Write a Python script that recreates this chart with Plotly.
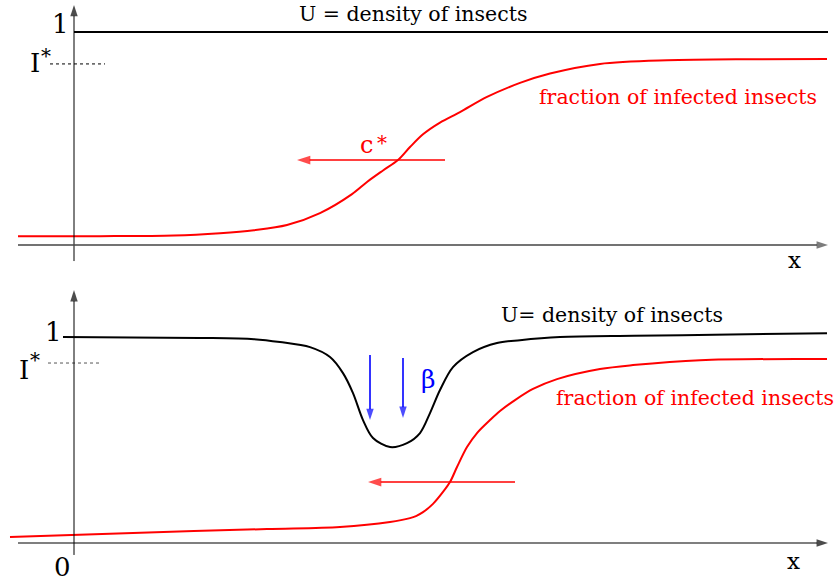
import plotly.graph_objects as go

# ---- data -------------------------------------------------------------
# Top panel: travelling front of infected insects, density U stays at 1
top_u_x = [0.0, 7.54]
top_u_y = [1.0, 1.0]

top_inf_x = [-0.56, 0.26, 1.00, 1.46, 1.80, 2.13, 2.46, 2.78, 2.93, 3.09,
             3.24, 3.36, 3.49, 3.66, 3.86, 4.13, 4.46, 4.76, 5.26, 5.93,
             6.76, 7.53]
top_inf_y = [0.042, 0.042, 0.045, 0.056, 0.070, 0.094, 0.150, 0.239, 0.296,
             0.350, 0.399, 0.460, 0.520, 0.575, 0.624, 0.695, 0.761, 0.805,
             0.850, 0.867, 0.872, 0.873]

top_istar = 0.85

# Bottom panel: density U dips where the infection front passes
bot_u_x = [-0.11, 1.26, 1.80, 2.06, 2.36, 2.56, 2.69, 2.79, 2.89, 2.99, 3.16,
           3.33, 3.46, 3.56, 3.66, 3.79, 3.99, 4.23, 4.46, 4.86, 5.60, 6.40, 7.53]
bot_u_y = [1.000, 0.996, 0.990, 0.976, 0.951, 0.903, 0.825, 0.728, 0.597,
           0.510, 0.466, 0.485, 0.534, 0.631, 0.743, 0.854, 0.927, 0.971,
           0.985, 1.000, 1.006, 1.011, 1.019]

bot_inf_x = [-0.64, 0.59, 1.93, 2.66, 3.16, 3.36, 3.42, 3.49, 3.59, 3.69,
             3.76, 3.83, 3.93, 4.03, 4.16, 4.26, 4.41, 4.59, 4.83, 5.26,
             5.59, 6.26, 7.53]
bot_inf_y = [0.029, 0.049, 0.068, 0.078, 0.102, 0.121, 0.131, 0.150, 0.190,
             0.248, 0.296, 0.369, 0.466, 0.534, 0.597, 0.641, 0.694, 0.748,
             0.796, 0.845, 0.864, 0.888, 0.893]

bot_istar = 0.874

# arrows: (tail_x, tail_y, tip_x, tip_y)
top_speed_arrow = (3.71, 0.399, 2.23, 0.399)
bot_speed_arrow = (4.41, 0.296, 2.94, 0.296)
beta_arrows = [(2.96, 0.913, 2.96, 0.597), (3.29, 0.898, 3.29, 0.607)]

RED = "#ff0000"
BLUE = "#0000ff"
FONT = "DejaVu Serif"

fig = go.Figure()


def curve(x, y, color, axes, width=2, smooth=True, dash=None):
    line = dict(color=color, width=width)
    if smooth:
        line.update(shape="spline", smoothing=0.9)
    if dash:
        line["dash"] = dash
    fig.add_trace(go.Scatter(x=x, y=y, mode="lines", line=line,
                             xaxis=axes[0], yaxis=axes[1], hoverinfo="skip"))


def arrow(tail_x, tail_y, tip_x, tip_y, axes, color, width=1.2, head=11):
    fig.add_trace(go.Scatter(
        x=[tail_x, tip_x], y=[tail_y, tip_y], mode="lines+markers",
        line=dict(color=color, width=width),
        marker=dict(symbol="arrow", size=[0, head], angleref="previous",
                    color=color, line=dict(width=0)),
        xaxis=axes[0], yaxis=axes[1], hoverinfo="skip"))


TOP = ("x", "y")
BOT = ("x2", "y2")

# ---- curves -------------------------------------------------------------
curve(top_u_x, top_u_y, "black", TOP, smooth=False)
curve(top_inf_x, top_inf_y, RED, TOP)
curve([-0.24, 0.31], [top_istar, top_istar], "black", TOP, width=1,
      smooth=False, dash="3px,3px")

curve(bot_u_x, bot_u_y, "black", BOT)
curve(bot_inf_x, bot_inf_y, RED, BOT)
curve([-0.26, 0.28], [bot_istar, bot_istar], "#555555", BOT, width=1,
      smooth=False, dash="3px,3px")

# ---- coordinate axes drawn as arrows ----------------------------------------
arrow(0, -0.075, 0, 1.127, TOP, "black", width=1, head=12)
arrow(-0.56, 0, 7.54, 0, TOP, "#444444", width=1.5, head=12)
arrow(0, -0.058, 0, 1.228, BOT, "black", width=1, head=12)
arrow(-0.56, 0, 7.54, 0, BOT, "black", width=1.2, head=12)

# ---- direction arrows --------------------------------------------------------
arrow(*top_speed_arrow, TOP, RED, width=1.6, head=14)
arrow(*bot_speed_arrow, BOT, RED, width=1.6, head=14)
for a in beta_arrows:
    arrow(*a, BOT, BLUE, width=1.6, head=12)

# ---- labels -------------------------------------------------------------
annotations = []


def label(x, y, text, axes, size=26, color="black", xanchor="center"):
    annotations.append(dict(
        x=x, y=y, xref=axes[0], yref=axes[1], text=text, showarrow=False,
        xanchor=xanchor, yanchor="middle",
        font=dict(family=FONT, size=size, color=color)))


label(-0.14, 1.038, "1", TOP)
label(-0.39, 0.854, "I", TOP, size=26)
label(-0.28, 0.885, "*", TOP, size=20)
label(3.385, 1.085, "U = density of insects", TOP, size=20.5)
label(6.035, 0.695, "fraction of infected insects", TOP, size=20.5, color=RED)
label(2.92, 0.47, "c", TOP, size=24, color=RED)
label(3.08, 0.48, "*", TOP, size=20, color=RED)
label(7.20, -0.072, "x", TOP, size=23)

label(-0.21, 1.024, "1", BOT)
label(-0.50, 0.840, "I", BOT, size=26)
label(-0.39, 0.89, "*", BOT, size=20)
label(-0.12, -0.117, "0", BOT)
label(5.375, 1.107, "U= density of insects", BOT, size=20.5)
label(6.205, 0.704, "fraction of infected insects", BOT, size=20.5, color=RED)
label(3.54, 0.796, "β", BOT, size=25, color=BLUE)
label(7.19, -0.085, "x", BOT, size=23)

hidden = dict(visible=False, showgrid=False, zeroline=False)
fig.update_layout(
    width=836, height=584,
    margin=dict(l=0, r=0, t=0, b=0),
    paper_bgcolor="white", plot_bgcolor="white",
    showlegend=False,
    xaxis=dict(range=[-0.74, 7.62], domain=[0, 1], anchor="y", **hidden),
    yaxis=dict(range=[-0.164, 1.150], domain=[0.5205, 1], anchor="x", **hidden),
    xaxis2=dict(range=[-0.74, 7.62], domain=[0, 1], anchor="y2", **hidden),
    yaxis2=dict(range=[-0.199, 1.277], domain=[0, 0.5205], anchor="x2", **hidden),
    annotations=annotations,
)

fig.write_html("out.html")
